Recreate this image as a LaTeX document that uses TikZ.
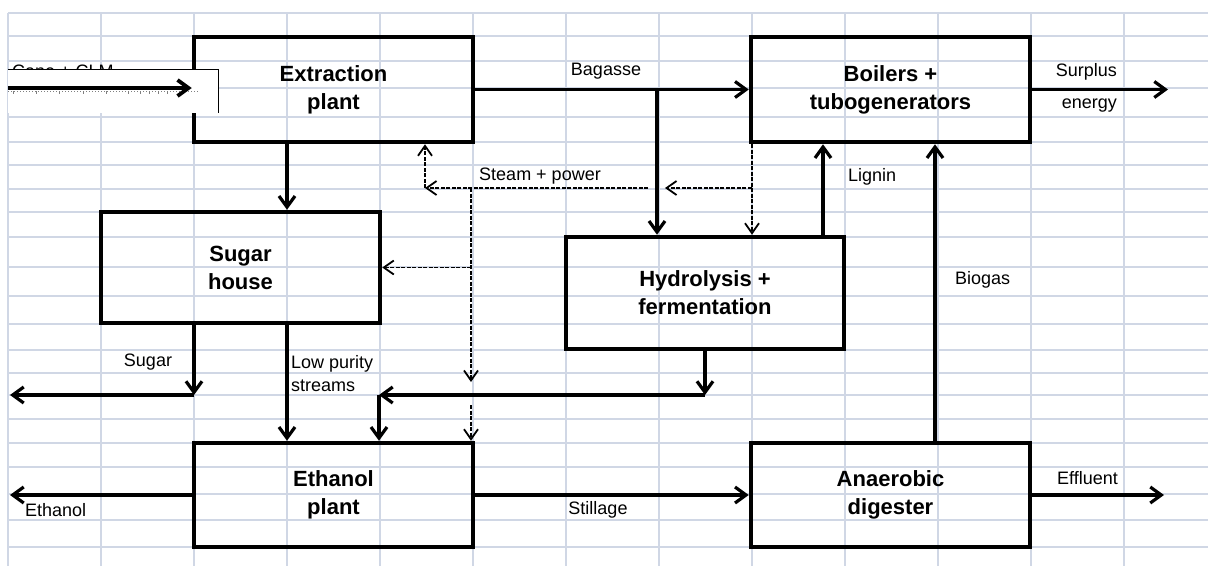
\documentclass[tikz,border=0pt]{standalone}
\usepackage{fontspec}
\setmainfont{Liberation Sans}
\usetikzlibrary{arrows.meta}
\definecolor{gridc}{RGB}{208,215,229}
\begin{document}
\begin{tikzpicture}[x=1pt,y=-1pt,
  box/.style={draw=black, line width=4.5pt, fill=none, inner sep=0pt, align=center,
              font=\bfseries\fontsize{22}{28}\selectfont},
  flow/.style={line width=3.2pt, -{Straight Barb[length=11pt,width=16pt]}},
  util/.style={line width=1.8pt, dash pattern=on 4pt off 1.5pt, -{Straight Barb[length=10pt,width=14pt]}},
  lab/.style={inner sep=0pt, font=\fontsize{18}{23}\selectfont},
  gridline/.style={draw=gridc, line width=1.8pt}]
% page
\fill[white] (0,0) rectangle (1208,566);
\useasboundingbox (0,0) rectangle (1208,566);
% spreadsheet grid
\foreach \x in {8,101,...,1124} \draw[gridline] (\x,13) -- (\x,566);
\foreach \y in {13,36,61,88,117,142,165,189,212,237,267,296,324,350,373,395,419,443,467,494,520,547}
  \draw[gridline] (8,\y) -- (1208,\y);
% boxes
\node[box, minimum width=279pt, minimum height=105pt] (ext)  at (333.5,89.5) {Extraction\\plant};
\node[box, minimum width=279pt, minimum height=105pt] (boil) at (890.5,89.5) {Boilers +\\tubogenerators};
\node[box, minimum width=279pt, minimum height=111pt] (sug)  at (240.5,267.5) {Sugar\\house};
\node[box, minimum width=278pt, minimum height=112pt] (hyd)  at (705,293) {Hydrolysis +\\fermentation};
\node[box, minimum width=279pt, minimum height=104pt] (eth)  at (333.5,495) {Ethanol\\plant};
\node[box, minimum width=279pt, minimum height=104pt] (ana)  at (890.5,495) {Anaerobic\\digester};
% helper coordinates
\coordinate (xA) at (287,0);
\coordinate (xS) at (194,0);
\coordinate (xB) at (657,0);
\coordinate (xL) at (823,0);
\coordinate (xG) at (935,0);
\coordinate (xD) at (752,0);
\coordinate (xE) at (425,0);
\coordinate (xF) at (471,0);
\coordinate (xH) at (705,0);
\coordinate (xK) at (379,0);
\coordinate (yS) at (0,188);
\coordinate (yR) at (0,395);
\coordinate (sugend) at (10,395);
\coordinate (ethend) at (10,495);
\coordinate (effend) at (1164,495);
\coordinate (surend) at (1168,89.5);
\coordinate (sA) at (665,188);
\coordinate (sB) at (648,188);
\coordinate (sC) at (471,382);
\coordinate (sD) at (471,405);
\coordinate (canein) at (8,88);
% Cane + CLM input (partly hidden under a white panel)
\node[lab, anchor=base west] (canelab) at (12,77) {Cane + CLM};
\fill[white] (8,69) rectangle (218,113);
\draw[line width=0.8pt] (8,69) -- (218,69) -- (218,113);
\draw[gray, line width=1pt, dotted] (8,91) -- (198,91);
\foreach \x in {13,36,59,83,106,128,140,149,158,167}
  \draw[gray, line width=0.8pt] (\x,91) -- (\x,94);
\draw[flow, line width=3.8pt] (canein) -- (canein -| ext.west);
% solid flows
\draw[flow] (ext.east) -- (boil.west);
\draw[flow] (ext.east -| xB) -- (hyd.north -| xB);
\draw[flow] (boil.east) -- (surend);
\draw[flow] (ext.south -| xA) -- (sug.north -| xA);
\draw[flow] (sug.south -| xS) -- (xS |- yR);
\draw[flow] (xS |- yR) -- (sugend);
\draw[flow] (sug.south -| xA) -- (eth.north -| xA);
\draw[flow] (hyd.south -| xH) -- (xH |- yR);
\draw[flow] (xH |- yR) -- (xK |- yR);
\draw[flow] (xK |- yR) -- (eth.north -| xK);
\draw[flow] (hyd.north -| xL) -- (boil.south -| xL);
\draw[flow] (ana.north -| xG) -- (boil.south -| xG);
\draw[flow] (eth.east) -- (ana.west);
\draw[flow] (eth.west) -- (ethend);
\draw[flow] (ana.east) -- (effend);
% steam + power (dashed)
\draw[util] (boil.south -| xD) -- (xD |- yS) -- (sA);
\draw[util] (xD |- yS) -- (hyd.north -| xD);
\draw[util] (sB) -- (xE |- yS);
\draw[util] (xE |- yS) -- (ext.south -| xE);
\draw[util] (xF |- yS) -- (sC);
\draw[util] (xF |- sug.east) -- (sug.east);
\draw[util] (sD) -- (eth.north -| xF);
% labels
\node[lab] (lbag) at (606,71) {Bagasse};
\node[lab, anchor=east, align=right, font=\fontsize{18}{32}\selectfont] (lsur) at (1117,88) {Surplus\\energy};
\node[lab] (lsteam) at (540,176) {Steam + power};
\node[lab, anchor=west] (llig) at (848,177) {Lignin};
\node[lab, anchor=west] (lbio) at (955,280) {Biogas};
\node[lab] (lsugar) at (148,362) {Sugar};
\node[lab, anchor=west, align=left] (llow) at (291,373.5) {Low purity\\streams};
\node[lab, anchor=west] (leth) at (25,510) {Ethanol};
\node[lab] (lstill) at (598,510) {Stillage};
\node[lab, anchor=west] (leff) at (1057,478) {Effluent};
\end{tikzpicture}
\end{document}
